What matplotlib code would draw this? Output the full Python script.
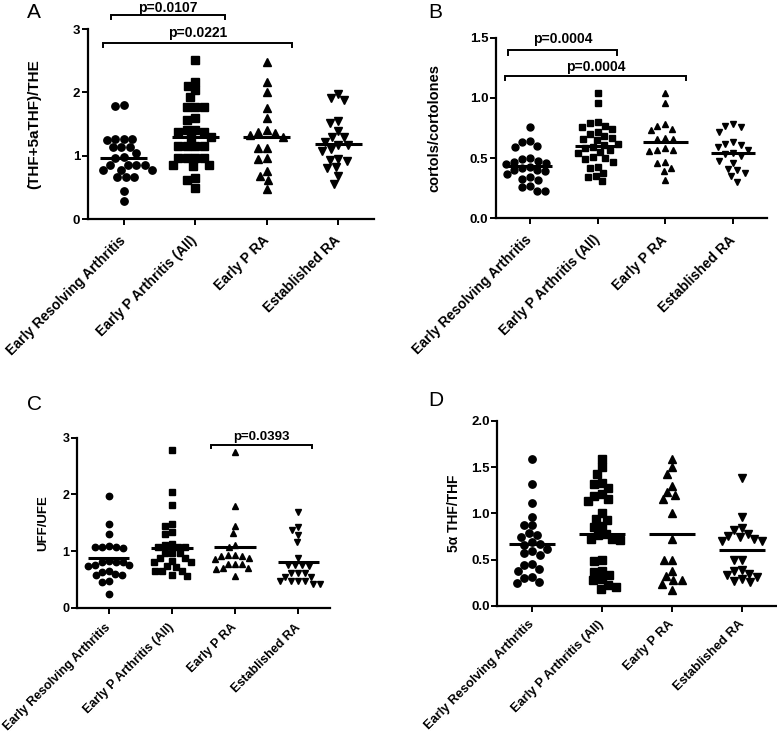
import numpy as np
import matplotlib
matplotlib.use("Agg")
import matplotlib.pyplot as plt
from matplotlib.transforms import ScaledTranslation

plt.rcParams['font.family'] = ['Liberation Sans', 'DejaVu Sans']

categories = ["Early Resolving Arthritis", "Early P Arthritis (All)", "Early P RA", "Established RA"]

# ---- Panel A: (THF+5aTHF)/THE ----
a_resolving = [1.80, 1.78, 1.27, 1.27, 1.26, 1.25, 1.14, 1.14, 1.13, 1.04, 0.98, 0.96,
               0.86, 0.86, 0.85, 0.85, 0.78, 0.78, 0.77, 0.67, 0.66, 0.66, 0.44, 0.29]
a_p_all = [2.51, 2.17, 2.10, 2.03, 1.92, 1.77, 1.77, 1.77, 1.60, 1.56, 1.40, 1.40, 1.38, 1.38, 1.30,
           1.28, 1.16, 1.16, 1.16, 1.15, 0.97, 0.96, 0.96, 0.96, 0.85, 0.85, 0.84, 0.64, 0.62, 0.49]
a_p_ra = [2.48, 2.16, 2.01, 1.75, 1.59, 1.40, 1.38, 1.36, 1.33, 1.30, 1.12, 1.12, 0.96, 0.95,
          0.76, 0.68, 0.62, 0.48]
a_established = [1.98, 1.91, 1.88, 1.55, 1.51, 1.39, 1.29, 1.29, 1.22, 1.17, 1.17, 1.10, 1.08,
                 0.95, 0.93, 0.92, 0.82, 0.80, 0.68, 0.56]
a_means = [0.97, 1.30, 1.30, 1.19]
a_pvalues = ["p=0.0107", "p=0.0221"]

# ---- Panel B: cortols/cortolones ----
b_resolving = [0.76, 0.64, 0.63, 0.60, 0.59, 0.50, 0.49, 0.48, 0.47, 0.46, 0.45, 0.43,
               0.42, 0.40, 0.40, 0.39, 0.37, 0.34, 0.33, 0.32, 0.27, 0.26, 0.23, 0.23]
b_p_all = [1.04, 0.96, 0.80, 0.79, 0.77, 0.76, 0.74, 0.72, 0.70, 0.68, 0.67, 0.66, 0.65, 0.62, 0.61,
           0.59, 0.58, 0.57, 0.55, 0.54, 0.51, 0.50, 0.49, 0.47, 0.43, 0.42, 0.38, 0.35, 0.34, 0.31]
b_p_ra = [1.04, 0.96, 0.78, 0.77, 0.74, 0.73, 0.67, 0.66, 0.66, 0.58, 0.57, 0.57, 0.56, 0.47,
          0.46, 0.42, 0.39, 0.32]
b_established = [0.78, 0.77, 0.76, 0.72, 0.63, 0.62, 0.61, 0.59, 0.57, 0.54, 0.53, 0.52, 0.48,
                 0.46, 0.41, 0.40, 0.38, 0.35, 0.30]
b_means = [0.435, 0.60, 0.63, 0.54]
b_pvalues = ["p=0.0004", "p=0.0004"]

# ---- Panel C: UFF/UFE ----
c_resolving = [1.98, 1.47, 1.30, 1.09, 1.08, 1.08, 1.07, 1.06, 0.82, 0.81, 0.80, 0.80,
               0.76, 0.75, 0.74, 0.65, 0.63, 0.59, 0.58, 0.57, 0.47, 0.45, 0.24]
c_p_all = [2.78, 2.05, 1.81, 1.47, 1.44, 1.33, 1.30, 1.12, 1.11, 1.08, 1.07, 1.07, 0.97, 0.96,
           0.96, 0.88, 0.87, 0.82, 0.81, 0.81, 0.73, 0.72, 0.65, 0.64, 0.64, 0.57, 0.56]
c_p_ra = [2.75, 1.79, 1.44, 1.32, 1.11, 1.07, 0.93, 0.93, 0.92, 0.92, 0.87, 0.86, 0.78, 0.78,
          0.77, 0.70, 0.70, 0.69, 0.56]
c_established = [1.69, 1.43, 1.37, 1.28, 1.16, 0.87, 0.76, 0.75, 0.75, 0.73, 0.62, 0.61, 0.61,
                 0.55, 0.54, 0.48, 0.48, 0.47, 0.47, 0.42, 0.41]
c_means = [0.88, 1.05, 1.07, 0.81]
c_pvalues = ["p=0.0393"]

# ---- Panel D: 5alpha THF/THF ----
d_resolving = [1.59, 1.32, 1.11, 0.96, 0.87, 0.87, 0.79, 0.77, 0.75, 0.69, 0.67, 0.66,
               0.61, 0.59, 0.57, 0.55, 0.45, 0.44, 0.40, 0.38, 0.31, 0.30, 0.26, 0.25]
d_p_all = [1.59, 1.50, 1.43, 1.33, 1.32, 1.27, 1.21, 1.19, 1.15, 1.13, 1.00, 0.94, 0.93, 0.86, 0.85,
           0.78, 0.77, 0.72, 0.71, 0.72, 0.50, 0.49, 0.38, 0.37, 0.33, 0.29, 0.28, 0.23, 0.21, 0.18]
d_p_ra = [1.59, 1.50, 1.43, 1.30, 1.23, 1.20, 1.15, 1.00, 0.72, 0.50, 0.50, 0.38, 0.32, 0.28,
          0.28, 0.24, 0.17]
d_established = [1.38, 0.96, 0.84, 0.82, 0.78, 0.76, 0.75, 0.72, 0.70, 0.70, 0.50, 0.50, 0.39,
                 0.38, 0.35, 0.33, 0.31, 0.29, 0.27, 0.26]
d_means = [0.67, 0.78, 0.78, 0.60]

markers = ['o', 's', '^', 'v']

W, H = 777, 739
fig = plt.figure(figsize=(W / 100, H / 100), dpi=100)


def px_rect(left, top, right, bottom):
    return [left / W, 1 - bottom / H, (right - left) / W, (bottom - top) / H]


def swarm_offsets(ax, x0, values, d):
    """Simple beeswarm in pixel space; returns x offsets in data units."""
    trans = ax.transData
    vals = np.asarray(values, dtype=float)
    yp = trans.transform(np.column_stack([np.full(len(vals), x0), vals]))[:, 1]
    ppx = trans.transform([[1, 0]])[0, 0] - trans.transform([[0, 0]])[0, 0]
    order = np.argsort(-yp, kind='stable')
    placed = []
    offsets = np.zeros(len(vals))
    for i in order:
        y = yp[i]
        near = [(px, py) for px, py in placed if abs(py - y) < d]
        cands = [0.0]
        for px, py in near:
            dx = np.sqrt(max(d * d - (py - y) ** 2, 0.0))
            cands += [px + dx, px - dx]
        cands = sorted(set(np.round(cands, 4)), key=lambda c: (abs(c), c))
        chosen = 0.0
        for c in cands:
            if all((c - px) ** 2 + (y - py) ** 2 >= d * d - 1e-3 for px, py in near):
                chosen = c
                break
        placed.append((chosen, y))
        offsets[i] = chosen / ppx
    return offsets


def bracket(ax, x1, x2, y, ytick, text, ty, fs):
    ax.plot([x1, x1, x2, x2], [ytick, y, y, ytick], color='black', lw=1.4,
            clip_on=False, solid_joinstyle='miter')
    ax.text((x1 + x2) / 2, ty, text, ha='center', va='center', fontsize=fs,
            fontweight='bold', clip_on=False)


def panel(rect, groups, means, ylim, yticks, yticklabels, ylabel, ylabel_x,
          letter, letter_xy, tick_fs, cat_fs, lab_fs, cat_shift, msize, dist, xpad):
    ax = fig.add_axes(rect)
    ax.set_xlim(0.5, 4.5)
    ax.set_ylim(*ylim)
    for s in ['top', 'right']:
        ax.spines[s].set_visible(False)
    for s in ['left', 'bottom']:
        ax.spines[s].set_linewidth(1.6)
    ax.set_yticks(yticks)
    ax.set_yticklabels(yticklabels, fontsize=tick_fs, fontweight='bold')
    ax.set_xticks([1, 2, 3, 4])
    ax.set_xticklabels(categories, rotation=45, ha='right', va='center',
                       rotation_mode='anchor', fontsize=cat_fs, fontweight='bold')
    for lab in ax.get_xticklabels():
        lab.set_transform(lab.get_transform() +
                          ScaledTranslation(cat_shift / 100, 0, fig.dpi_scale_trans))
    ax.tick_params(axis='both', direction='out', length=4, width=1.4)
    ax.tick_params(axis='x', pad=xpad)
    ax.tick_params(axis='y', pad=1.5)
    for i, vals in enumerate(groups):
        x0 = i + 1
        offs = swarm_offsets(ax, x0, vals, d=dist)
        ax.plot(x0 + offs, vals, linestyle='none', marker=markers[i], markersize=msize,
                color='black', clip_on=False, zorder=2)
        ax.plot([x0 - 0.33, x0 + 0.33], [means[i], means[i]], color='black', lw=2.2,
                solid_capstyle='butt', zorder=3)
    ax.set_ylabel(ylabel, fontsize=lab_fs, fontweight='bold')
    ax.yaxis.set_label_coords(ylabel_x, 0.5)
    fig.text(letter_xy[0] / W, 1 - letter_xy[1] / H, letter, fontsize=15,
             ha='left', va='center')
    return ax


axA = panel(px_rect(88, 29, 374, 219), [a_resolving, a_p_all, a_p_ra, a_established], a_means,
            (0, 3), [0, 1, 2, 3], ['0', '1', '2', '3'], '(THF+5aTHF)/THE', -0.165,
            'A', (27, 12), 9.5, 10, 11, 6, 5.3, 8.6, 10)
bracket(axA, 0.82, 2.41, 3.22, 3.16, a_pvalues[0], 3.33, 10)
bracket(axA, 0.71, 3.36, 2.78, 2.72, a_pvalues[1], 2.94, 10)

axB = panel(px_rect(496, 37.7, 767, 218.3), [b_resolving, b_p_all, b_p_ra, b_established], b_means,
            (0, 1.5), [0, 0.5, 1.0, 1.5], ['0.0', '0.5', '1.0', '1.5'], 'cortols/cortolones', -0.2,
            'B', (428, 12), 9.5, 10, 10.5, 5, 5.0, 8.2, 10)
bracket(axB, 0.68, 2.29, 1.40, 1.356, b_pvalues[0], 1.49, 10)
bracket(axB, 0.64, 3.30, 1.18, 1.15, b_pvalues[1], 1.26, 10)

axC = panel(px_rect(77, 437.7, 330, 607.7), [c_resolving, c_p_all, c_p_ra, c_established], c_means,
            (0, 3), [0, 1, 2, 3], ['0', '1', '2', '3'], 'UFF/UFE', -0.111,
            'C', (27, 405), 9, 9.0, 9.5, 5, 4.6, 7.0, 9)
bracket(axC, 2.62, 4.21, 2.88, 2.81, c_pvalues[0], 3.02, 9.5)

axD = panel(px_rect(497.3, 420.7, 777, 606), [d_resolving, d_p_all, d_p_ra, d_established], d_means,
            (0, 2.0), [0, 0.5, 1.0, 1.5, 2.0], ['0.0', '0.5', '1.0', '1.5', '2.0'], '5α THF/THF', -0.13,
            'D', (428, 400), 9.5, 9.3, 10, 5, 5.3, 8.3, 8)

fig.savefig('out.png', dpi=100)
